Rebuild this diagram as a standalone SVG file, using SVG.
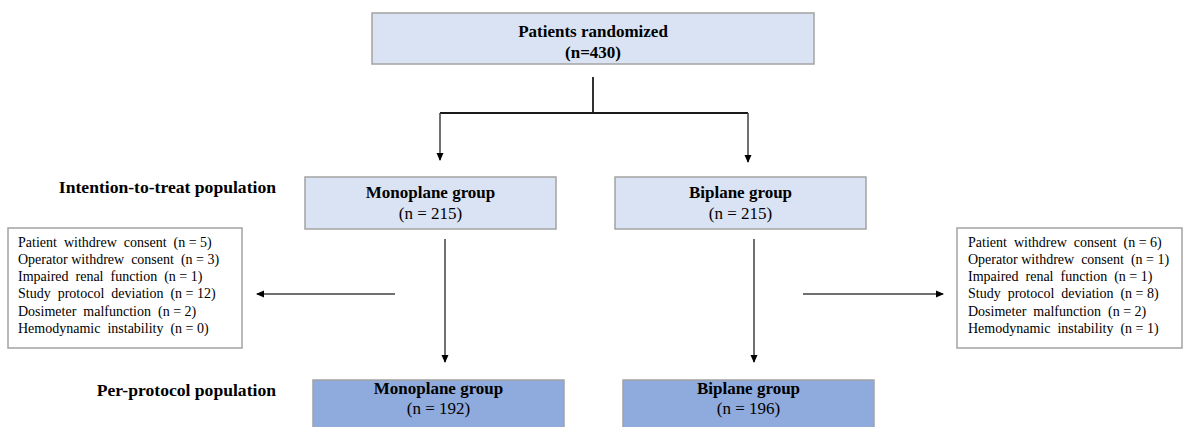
<svg xmlns="http://www.w3.org/2000/svg" width="1184" height="427" viewBox="0 0 1184 427">
<style>
text{font-family:"Liberation Serif","Times New Roman",serif;fill:#000}
.b{font-weight:bold;font-size:17px;text-anchor:middle}
.n{font-size:17px;text-anchor:middle}
.lbl{font-weight:bold;font-size:17.6px;text-anchor:end}
.ex{font-size:14px}
.light{fill:#dae3f3;stroke:#a3a3a3;stroke-width:1.5}
.dark{fill:#8faadc;stroke:#a3a3a3;stroke-width:1.5}
.white{fill:#fff;stroke:#a3a3a3;stroke-width:1.5}
.c{fill:none;stroke:#1a1a1a;stroke-width:1.8}
.a{fill:none;stroke:#404040;stroke-width:1.5}
</style>
<defs>
<marker id="ah" markerWidth="8" markerHeight="8" refX="7" refY="4" orient="auto" markerUnits="userSpaceOnUse">
<path d="M0,0.5 L8,4 L0,7.5 Z" fill="#000"/>
</marker>
</defs>
<g id="labels">
<text class="lbl" x="276" y="193">Intention-to-treat population</text>
<text class="lbl" x="276" y="396">Per-protocol population</text>
</g>
<g id="randomized">
<rect class="light" x="372" y="13" width="442" height="51"/>
<text class="b" x="593" y="37">Patients randomized</text>
<text class="b" x="593" y="58">(n=430)</text>
</g>
<g id="mono-itt">
<rect class="light" x="305" y="177" width="251" height="52"/>
<text class="b" x="430.5" y="198">Monoplane group</text>
<text class="n" x="430.5" y="219">(n = 215)</text>
</g>
<g id="bi-itt">
<rect class="light" x="615" y="177" width="251" height="52"/>
<text class="b" x="740.5" y="198">Biplane group</text>
<text class="n" x="740.5" y="219">(n = 215)</text>
</g>
<g id="mono-excl">
<rect class="white" x="8" y="228" width="234" height="120"/>
<text class="ex" x="18" y="247" xml:space="preserve">Patient  withdrew  consent  (n = 5)</text>
<text class="ex" x="18" y="264" xml:space="preserve">Operator withdrew  consent  (n = 3)</text>
<text class="ex" x="18" y="281" xml:space="preserve">Impaired  renal  function  (n = 1)</text>
<text class="ex" x="18" y="298" xml:space="preserve">Study  protocol  deviation  (n = 12)</text>
<text class="ex" x="18" y="316" xml:space="preserve">Dosimeter  malfunction  (n = 2)</text>
<text class="ex" x="18" y="333" xml:space="preserve">Hemodynamic  instability  (n = 0)</text>
</g>
<g id="bi-excl">
<rect class="white" x="957" y="228" width="225" height="120"/>
<text class="ex" x="968" y="247" xml:space="preserve">Patient  withdrew  consent  (n = 6)</text>
<text class="ex" x="968" y="264" xml:space="preserve">Operator withdrew  consent  (n = 1)</text>
<text class="ex" x="968" y="281" xml:space="preserve">Impaired  renal  function  (n = 1)</text>
<text class="ex" x="968" y="298" xml:space="preserve">Study  protocol  deviation  (n = 8)</text>
<text class="ex" x="968" y="316" xml:space="preserve">Dosimeter  malfunction  (n = 2)</text>
<text class="ex" x="968" y="333" xml:space="preserve">Hemodynamic  instability  (n = 1)</text>
</g>
<g id="mono-pp">
<rect class="dark" x="313" y="380" width="251" height="60"/>
<text class="b" x="438.5" y="394">Monoplane group</text>
<text class="n" x="438.5" y="414">(n = 192)</text>
</g>
<g id="bi-pp">
<rect class="dark" x="623" y="380" width="251" height="60"/>
<text class="b" x="748.5" y="394">Biplane group</text>
<text class="n" x="748.5" y="414">(n = 196)</text>
</g>
<g id="connectors">
<path class="c" d="M593,77 V113"/>
<path class="c" d="M440,113 H748"/>
<path class="a" d="M440,113 V160" marker-end="url(#ah)"/>
<path class="a" d="M748,113 V162" marker-end="url(#ah)"/>
<path class="a" d="M445,239 V362" marker-end="url(#ah)"/>
<path class="a" d="M754,239 V362" marker-end="url(#ah)"/>
<path class="a" d="M395,294 H257" marker-end="url(#ah)"/>
<path class="a" d="M803,294 H943" marker-end="url(#ah)"/>
</g>
</svg>
